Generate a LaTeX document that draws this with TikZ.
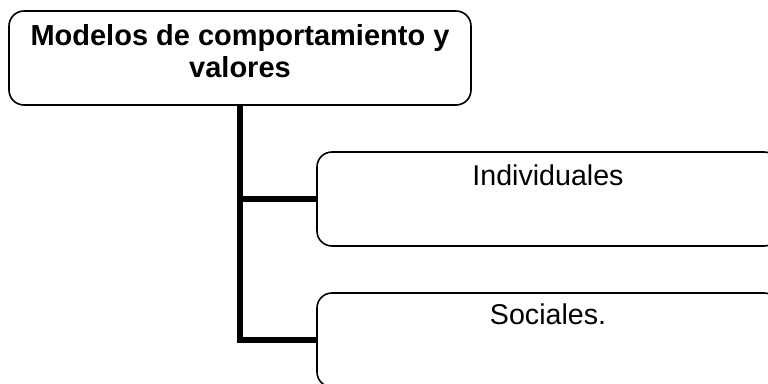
\documentclass[tikz,border=0pt]{standalone}
\usepackage{fontspec}
\setmainfont{Liberation Sans}
\begin{document}
\begin{tikzpicture}[x=1pt,y=-1pt,
  box/.style={draw=black,line width=1.6pt,rounded corners=15pt,fill=white,inner sep=0pt},
  conn/.style={draw=black,line width=6pt,line join=miter},
  txt/.style={inner sep=0pt,font=\fontsize{28.6}{32}\selectfont}]
\useasboundingbox (0,0) rectangle (768,383);
\clip (0,0) rectangle (768,383);
\node[box,minimum width=462pt,minimum height=94pt] (b1) at (240,58) {};
\node[box,minimum width=462pt,minimum height=94pt] (b2) at (548,199) {};
\node[box,minimum width=462pt,minimum height=94pt] (b3) at (548,340) {};
\draw[conn] (b1.south) |- (b3.west);
\draw[conn] (b1.south |- b2.west) -- (b2.west);
\node[txt,font=\fontsize{29}{32}\selectfont\bfseries,align=center] (t1) at (240,51) {Modelos de comportamiento y\\valores};
\node[txt,anchor=base] (t2) at (548,185) {Individuales};
\node[txt,anchor=base] (t3) at (548,324) {Sociales.};
\end{tikzpicture}
\end{document}
